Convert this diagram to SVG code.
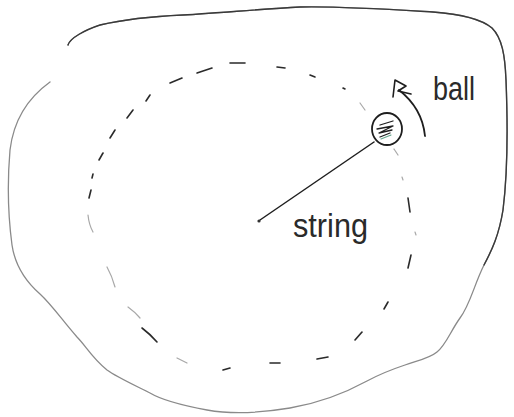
<svg xmlns="http://www.w3.org/2000/svg" width="514" height="417" viewBox="0 0 514 417">
<style>
.outline{fill:none;stroke:#8a8a8a;stroke-width:1.3;stroke-linecap:round;stroke-linejoin:round}
.outline.dark{stroke:#3a3a3a;stroke-width:1.4}
.dash{fill:none;stroke:#2a2a2a;stroke-width:1.6;stroke-linecap:round}
.dash.light{stroke:#a8a8a8;stroke-width:1.2}
.ink{fill:none;stroke:#1e1e1e;stroke-width:1.8;stroke-linecap:round;stroke-linejoin:round}
.label{font-family:"Liberation Sans",Arial,sans-serif;fill:#2a2a2a}
</style>
<rect width="514" height="417" fill="#ffffff"/>
<g id="boundary">
<path class="outline" d="M68,45 C70,38 85,30 100,25 C130,18 160,16 183,15 C220,13 260,9 300,7 C340,6 400,10 433,12 C460,14 480,18 492,28 C502,38 505,55 506,80 C508,130 508,170 503,210 C499,235 492,250 484,265 C474,285 470,305 460,318 C450,332 446,345 437,352 C430,358 420,360 405,365 C390,370 380,374 367,381 C345,393 320,403 290,408 C260,413 230,414 207,410 C180,405 160,399 150,393 C130,383 115,376 107,370 C92,358 86,346 77,337 C62,320 52,305 40,294 C24,280 15,265 12,245 C8,215 7,185 10,150 C13,125 25,100 50,82"/>
<path class="outline dark" d="M68,45 C70,38 85,30 100,25 C130,18 160,16 183,15 C220,13 260,9 300,7 C340,6 400,10 433,12 C460,14 480,18 492,28 C502,38 505,55 506,80 C508,130 508,170 503,210 C499,235 492,250 484,265"/>
</g>
<g id="orbit">
<path class="dash" d="M133,110 L127,118"/>
<path class="dash" d="M115,130 L110,138"/>
<path class="dash" d="M103,153 L99,160"/>
<path class="dash" d="M93,174 L92,178"/>
<path class="dash" d="M91,190 L89,198"/>
<path class="dash light" d="M88,215 Q89,225 93,232"/>
<path class="dash light" d="M107,267 Q112,276 115,287"/>
<path class="dash light" d="M128,307 Q135,312 140,318"/>
<path class="dash" d="M142,328 Q150,334 157,342"/>
<path class="dash light" d="M177,358 L187,363"/>
<path class="dash" d="M223,370 L230,368"/>
<path class="dash" d="M270,363 L280,363"/>
<path class="dash" d="M317,359 L328,357"/>
<path class="dash" d="M355,340 L362,332"/>
<path class="dash" d="M384,309 L388,302"/>
<path class="dash" d="M408,268 L411,255"/>
<path class="dash light" d="M415,232 L416,235"/>
<path class="dash" d="M408,198 L410,212"/>
<path class="dash light" d="M402,177 L403,180"/>
<path class="dash light" d="M394,149 L398,155"/>
<path class="dash light" d="M360,103 L365,110"/>
<path class="dash" d="M343,88 L345,89"/>
<path class="dash" d="M310,75 L315,77"/>
<path class="dash" d="M277,67 L285,68"/>
<path class="dash" d="M230,63 L245,63"/>
<path class="dash" d="M197,73 L212,68"/>
<path class="dash" d="M170,83 L182,78"/>
<path class="dash" d="M146,101 L150,95"/>
</g>
<g id="string-line">
<line class="ink" x1="260" y1="220" x2="374" y2="142" style="stroke-width:1.5"/>
<circle cx="259" cy="221" r="1.6" fill="#333"/>
</g>
<g id="ball">
<ellipse class="ink" cx="387" cy="129" rx="15" ry="16"/>
<path class="ink" style="stroke-width:1.3" d="M380,125 L393,121 M377,129 L393,126 L379,133 L392,130 M380,137 L390,133"/>
<path fill="none" stroke="#6aa890" stroke-width="1.2" stroke-linecap="round" d="M381,139 L391,135"/>
</g>
<g id="motion-arrow">
<path class="ink" d="M425,136 C423,116 413,101 399,90"/>
<path class="ink" style="stroke-width:1.6" d="M393,97 L395,80 L406,86 L398,91 L411,94"/>
</g>
<g id="labels">
<text class="label" x="433" y="100" font-size="34" textLength="42" lengthAdjust="spacingAndGlyphs">ball</text>
<text class="label" x="293" y="237" font-size="34" textLength="75" lengthAdjust="spacingAndGlyphs">string</text>
</g>
</svg>
